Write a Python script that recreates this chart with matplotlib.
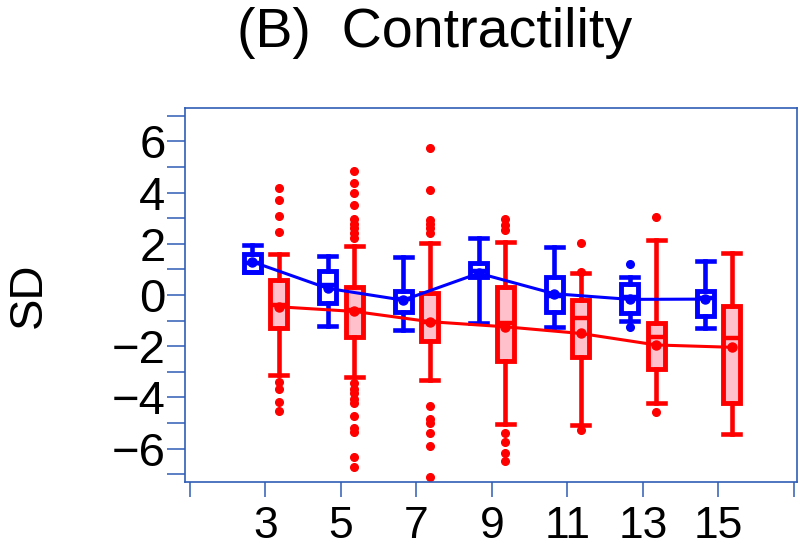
#!/usr/bin/env python3
# -*- coding: utf-8 -*-

import matplotlib
matplotlib.use('Agg')
import matplotlib.pyplot as plt

plt.rcParams['font.family'] = ['Liberation Sans', 'DejaVu Sans']

# x groups
groups = [3, 5, 7, 9, 11, 13, 15]

# blue series
blue_lo = [0.91, -1.21, -1.37, -1.11, -1.24, -1.00, -1.28]
blue_q1 = [0.91, -0.33, -0.68, 0.72, -0.65, -0.69, -0.82]
blue_med = [1.24, 0.39, -0.17, 0.95, -0.05, -0.07, -0.12]
blue_q3 = [1.60, 0.94, 0.16, 1.24, 0.69, 0.43, 0.17]
blue_hi = [1.95, 1.54, 1.47, 2.21, 1.89, 0.72, 1.33]
blue_mean = [1.30, 0.26, -0.20, 0.85, 0.05, -0.17, -0.16]
blue_out = [[], [], [], [], [], [1.20, -1.24], []]

# red series
red_lo = [-3.13, -3.19, -3.32, -5.04, -5.08, -4.23, -5.43]
red_q1 = [-1.28, -1.65, -1.78, -2.57, -2.41, -2.90, -4.20]
red_med = [-0.39, -0.59, -1.04, -1.10, -0.91, -1.65, -1.69]
red_q3 = [0.59, 0.33, 0.07, 0.30, -0.20, -1.10, -0.43]
red_hi = [1.60, 1.93, 2.04, 2.08, 0.85, 2.15, 1.63]
red_mean = [-0.46, -0.64, -1.04, -1.24, -1.50, -1.95, -2.04]
red_out = [
    [4.19, 3.71, 3.10, 2.45, -3.39, -3.65, -4.17, -4.52],
    [4.84, 4.39, 4.00, 3.52, 2.97, 2.77, 2.60, 2.41, 2.21,
     -3.45, -3.65, -3.84, -4.04, -4.23, -4.73, -5.21, -5.34, -6.32, -6.71],
    [5.73, 4.10, 2.93, 2.77, 2.60, 2.41, -4.32, -4.84, -4.99, -5.40, -5.90, -7.10],
    [2.96, 2.73, 2.54, -5.38, -5.73, -6.16, -6.47],
    [2.04, 0.90, -5.25],
    [3.06, -4.56],
    [],
]

frame_col = '#2f5db5'
blue = '#0000ff'
red = '#ff0000'
pink = '#ffc0cb'


def make_stats(lo, q1, med, q3, hi, out):
    stats = []
    for i in range(len(lo)):
        stats.append(dict(whislo=lo[i], q1=q1[i], med=med[i], q3=q3[i],
                          whishi=hi[i], fliers=out[i]))
    return stats


fig = plt.figure(figsize=(8, 5.57), dpi=100)
ax = fig.add_axes([0.23125, 0.1346, 0.765, 0.6715])

blue_x = [g - 0.35 for g in groups]
red_x = [g + 0.35 for g in groups]

for stats, xs, col, face in [
        (make_stats(blue_lo, blue_q1, blue_med, blue_q3, blue_hi, blue_out), blue_x, blue, 'white'),
        (make_stats(red_lo, red_q1, red_med, red_q3, red_hi, red_out), red_x, red, pink)]:
    ax.bxp(stats, positions=xs, widths=0.45, capwidths=0.45, patch_artist=True,
           boxprops=dict(facecolor=face, edgecolor=col, linewidth=3.5),
           medianprops=dict(color=col, linewidth=3.2),
           whiskerprops=dict(color=col, linewidth=3.3),
           capprops=dict(color=col, linewidth=3.3),
           flierprops=dict(marker='o', markerfacecolor=col, markeredgecolor=col,
                           markersize=5.5, linestyle='none'))

ax.plot(blue_x, blue_mean, color=blue, lw=2.2, marker='o', ms=6.5, zorder=5)
ax.plot(red_x, red_mean, color=red, lw=2.2, marker='o', ms=6.5, zorder=5)

ax.set_xlim(0.868, 17.08)
ax.set_ylim(-7.3, 7.3)

ax.set_xticks(range(1, 18, 2))
ax.set_xticklabels([''] + [str(g) for g in groups] + [''])
ax.set_yticks(range(-6, 7, 2))
ax.set_yticklabels([('\u2212' + str(-v)) if v < 0 else str(v) for v in range(-6, 7, 2)])
ax.set_yticks(range(-7, 8, 2), minor=True)

ax.tick_params(axis='x', direction='out', length=11, width=1.1, color=frame_col,
               labelsize=32, pad=6)
ax.tick_params(axis='y', which='both', direction='out', length=13, width=1.1,
               color=frame_col, labelsize=34, pad=1)

for s in ax.spines.values():
    s.set_color(frame_col)
    s.set_linewidth(1.2)

fig.text(0.036, 1 - 295 / 557, 'SD', rotation=90, ha='center', va='center', fontsize=34)
fig.text(0.543, 1 - 47 / 557, '(B)  Contractility', ha='center', va='baseline', fontsize=40)

fig.savefig('out.png', dpi=100)
